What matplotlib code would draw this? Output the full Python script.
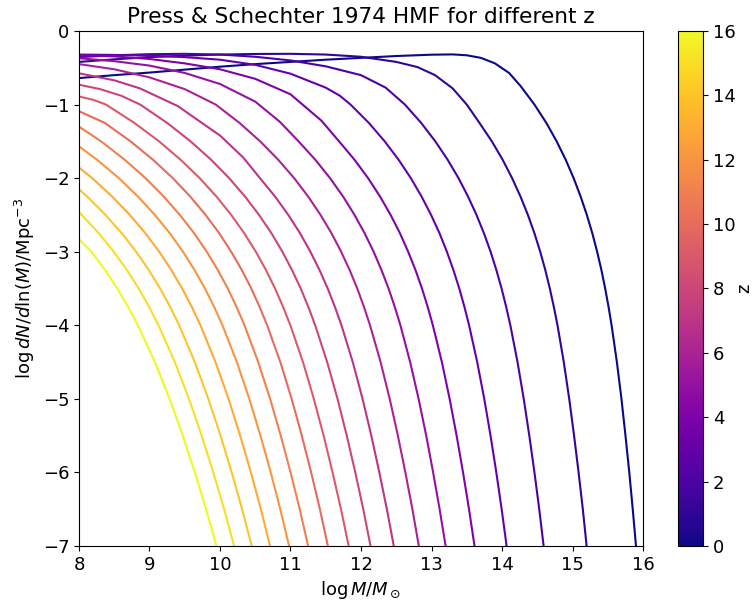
import numpy as np
import matplotlib.pyplot as plt
import matplotlib as mpl

redshifts = list(range(17))

# log M (x) and log dN/dlnM (y) for each redshift
z0_x = [8.0, 8.5, 9.0, 9.5, 10.0, 10.5, 11.0, 11.5, 12.0, 12.5, 13.0, 13.3, 13.5, 13.7, 13.9,
        14.1, 14.265, 14.46, 14.629, 14.775, 14.903, 15.016, 15.115, 15.203, 15.281, 15.349,
        15.41, 15.463, 15.511, 15.554, 15.629, 15.694, 15.751, 15.805, 15.854, 15.90]
z0_y = [-0.64, -0.60, -0.565, -0.525, -0.485, -0.45, -0.42, -0.39, -0.365, -0.34, -0.322, -0.318,
        -0.33, -0.365, -0.44, -0.57, -0.75, -1.0, -1.25, -1.5, -1.75, -2.0, -2.25, -2.5, -2.75,
        -3.0, -3.25, -3.5, -3.75, -4.0, -4.5, -5.0, -5.5, -6.0, -6.5, -7.0]
z1_x = [8.0, 8.5, 9.0, 9.5, 10.0, 10.5, 11.0, 11.5, 12.0, 12.5, 12.8, 13.05, 13.3, 13.5, 13.681,
        13.856, 14.009, 14.143, 14.262, 14.367, 14.46, 14.542, 14.614, 14.678, 14.735, 14.787,
        14.876, 14.953, 15.022, 15.086, 15.146, 15.20]
z1_y = [-0.42, -0.385, -0.355, -0.335, -0.32, -0.312, -0.31, -0.32, -0.35, -0.42, -0.49, -0.60,
        -0.78, -1.0, -1.25, -1.5, -1.75, -2.0, -2.25, -2.5, -2.75, -3.0, -3.25, -3.5, -3.75,
        -4.0, -4.5, -5.0, -5.5, -6.0, -6.5, -7.0]
z2_x = [8.0, 8.5, 9.0, 9.5, 10.0, 10.5, 11.0, 11.5, 12.0, 12.35, 12.623, 12.854, 13.054, 13.229,
        13.383, 13.518, 13.638, 13.744, 13.838, 13.92, 13.994, 14.059, 14.118, 14.22, 14.308,
        14.387, 14.46, 14.528, 14.59]
z2_y = [-0.355, -0.33, -0.315, -0.31, -0.32, -0.35, -0.40, -0.48, -0.60, -0.77, -1.0, -1.25,
        -1.5, -1.75, -2.0, -2.25, -2.5, -2.75, -3.0, -3.25, -3.5, -3.75, -4.0, -4.5, -5.0, -5.5,
        -6.0, -6.5, -7.0]
z3_x = [8.0, 8.5, 9.0, 9.5, 10.0, 10.5, 11.0, 11.5, 11.7, 11.852, 12.112, 12.336, 12.533,
        12.707, 12.859, 12.994, 13.114, 13.218, 13.311, 13.394, 13.467, 13.533, 13.648, 13.748,
        13.837, 13.919, 13.995, 14.065]
z3_y = [-0.32, -0.325, -0.335, -0.355, -0.39, -0.46, -0.58, -0.77, -0.88, -1.0, -1.25, -1.5,
        -1.75, -2.0, -2.25, -2.5, -2.75, -3.0, -3.25, -3.5, -3.75, -4.0, -4.5, -5.0, -5.5, -6.0,
        -6.5, -7.0]
z4_x = [8.0, 8.5, 9.0, 9.5, 10.0, 10.5, 11.0, 11.44, 11.689, 11.908, 12.101, 12.27, 12.42,
        12.553, 12.669, 12.773, 12.865, 12.946, 13.019, 13.147, 13.257, 13.356, 13.447, 13.532,
        13.61]
z4_y = [-0.33, -0.345, -0.38, -0.44, -0.52, -0.65, -0.86, -1.22, -1.5, -1.75, -2.0, -2.25, -2.5,
        -2.75, -3.0, -3.25, -3.5, -3.75, -4.0, -4.5, -5.0, -5.5, -6.0, -6.5, -7.0]
z5_x = [8.0, 8.5, 9.0, 9.5, 10.0, 10.5, 10.844, 11.115, 11.352, 11.561, 11.746, 11.908, 12.052,
        12.179, 12.291, 12.391, 12.479, 12.559, 12.697, 12.817, 12.925, 13.023, 13.115, 13.20]
z5_y = [-0.37, -0.41, -0.47, -0.57, -0.72, -0.96, -1.23, -1.5, -1.75, -2.0, -2.25, -2.5, -2.75,
        -3.0, -3.25, -3.5, -3.75, -4.0, -4.5, -5.0, -5.5, -6.0, -6.5, -7.0]
z6_x = [8.0, 8.5, 9.0, 9.5, 9.94, 10.278, 10.57, 10.826, 11.052, 11.251, 11.426, 11.582, 11.718,
        11.839, 11.947, 12.042, 12.128, 12.278, 12.407, 12.523, 12.629, 12.729, 12.82]
z6_y = [-0.45, -0.52, -0.63, -0.79, -1.0, -1.25, -1.5, -1.75, -2.0, -2.25, -2.5, -2.75, -3.0,
        -3.25, -3.5, -3.75, -4.0, -4.5, -5.0, -5.5, -6.0, -6.5, -7.0]
z7_x = [8.0, 8.5, 8.865, 9.4, 10.0, 10.33, 10.567, 10.781, 10.969, 11.136, 11.282, 11.412,
        11.528, 11.63, 11.723, 11.883, 12.022, 12.146, 12.26, 12.367, 12.465]
z7_y = [-0.575, -0.67, -0.78, -1.02, -1.42, -1.72, -2.0, -2.25, -2.5, -2.75, -3.0, -3.25, -3.5,
        -3.75, -4.0, -4.5, -5.0, -5.5, -6.0, -6.5, -7.0]
z8_x = [8.0, 8.3, 8.6, 8.868, 9.252, 9.583, 9.874, 10.13, 10.355, 10.554, 10.731, 10.885,
        11.022, 11.145, 11.253, 11.35, 11.52, 11.667, 11.798, 11.919, 12.032, 12.135]
z8_y = [-0.73, -0.79, -0.88, -1.0, -1.25, -1.5, -1.75, -2.0, -2.25, -2.5, -2.75, -3.0, -3.25,
        -3.5, -3.75, -4.0, -4.5, -5.0, -5.5, -6.0, -6.5, -7.0]
z9_x = [8.0, 8.2, 8.383, 8.787, 9.136, 9.442, 9.712, 9.95, 10.159, 10.345, 10.508, 10.653,
        10.781, 10.895, 10.998, 11.177, 11.331, 11.47, 11.597, 11.716, 11.825]
z9_y = [-0.89, -0.935, -1.0, -1.25, -1.5, -1.75, -2.0, -2.25, -2.5, -2.75, -3.0, -3.25, -3.5,
        -3.75, -4.0, -4.5, -5.0, -5.5, -6.0, -6.5, -7.0]
z10_x = [8.0, 8.368, 8.731, 9.05, 9.331, 9.578, 9.796, 9.99, 10.159, 10.31, 10.444, 10.562,
         10.669, 10.856, 11.016, 11.16, 11.293, 11.417, 11.53]
z10_y = [-1.09, -1.25, -1.5, -1.75, -2.0, -2.25, -2.5, -2.75, -3.0, -3.25, -3.5, -3.75, -4.0,
         -4.5, -5.0, -5.5, -6.0, -6.5, -7.0]
z11_x = [8.0, 8.314, 8.649, 8.943, 9.202, 9.431, 9.634, 9.812, 9.97, 10.11, 10.235, 10.347,
         10.542, 10.711, 10.862, 11.001, 11.131, 11.25]
z11_y = [-1.30, -1.5, -1.75, -2.0, -2.25, -2.5, -2.75, -3.0, -3.25, -3.5, -3.75, -4.0, -4.5,
         -5.0, -5.5, -6.0, -6.5, -7.0]
z12_x = [8.0, 8.257, 8.565, 8.837, 9.076, 9.289, 9.475, 9.64, 9.787, 9.917, 10.035, 10.239,
         10.416, 10.574, 10.72, 10.855, 10.98]
z12_y = [-1.567, -1.75, -2.0, -2.25, -2.5, -2.75, -3.0, -3.25, -3.5, -3.75, -4.0, -4.5, -5.0,
         -5.5, -6.0, -6.5, -7.0]
z13_x = [8.0, 8.187, 8.471, 8.721, 8.943, 9.138, 9.31, 9.464, 9.6, 9.723, 9.936, 10.121,
         10.286, 10.438, 10.58, 10.71]
z13_y = [-1.855, -2.0, -2.25, -2.5, -2.75, -3.0, -3.25, -3.5, -3.75, -4.0, -4.5, -5.0, -5.5,
         -6.0, -6.5, -7.0]
z14_x = [8.0, 8.115, 8.376, 8.608, 8.811, 8.991, 9.151, 9.293, 9.421, 9.643, 9.835, 10.008,
         10.166, 10.314, 10.45]
z14_y = [-2.15, -2.25, -2.5, -2.75, -3.0, -3.25, -3.5, -3.75, -4.0, -4.5, -5.0, -5.5, -6.0,
         -6.5, -7.0]
z15_x = [8.0, 8.282, 8.493, 8.681, 8.847, 8.995, 9.128, 9.36, 9.56, 9.74, 9.905, 10.059, 10.20]
z15_y = [-2.46, -2.75, -3.0, -3.25, -3.5, -3.75, -4.0, -4.5, -5.0, -5.5, -6.0, -6.5, -7.0]
z16_x = [8.0, 8.176, 8.371, 8.544, 8.698, 8.836, 9.077, 9.285, 9.472, 9.643, 9.803, 9.95]
z16_y = [-2.83, -3.0, -3.25, -3.5, -3.75, -4.0, -4.5, -5.0, -5.5, -6.0, -6.5, -7.0]

curves_x = [z0_x, z1_x, z2_x, z3_x, z4_x, z5_x, z6_x, z7_x, z8_x,
            z9_x, z10_x, z11_x, z12_x, z13_x, z14_x, z15_x, z16_x]
curves_y = [z0_y, z1_y, z2_y, z3_y, z4_y, z5_y, z6_y, z7_y, z8_y,
            z9_y, z10_y, z11_y, z12_y, z13_y, z14_y, z15_y, z16_y]

plt.rcParams['font.size'] = 13

fig = plt.figure(figsize=(7.55, 6.08), dpi=100)
ax = fig.add_axes([0.1046, 0.102, 0.7471, 0.847])
cax = fig.add_axes([0.898, 0.102, 0.033, 0.847])

cmap = plt.get_cmap('plasma')
norm = mpl.colors.Normalize(vmin=0, vmax=16)

for z, mx, my in zip(redshifts, curves_x, curves_y):
    ax.plot(mx, my, color=cmap(norm(z)), lw=1.5)

ax.set_xlim(8, 16)
ax.set_ylim(-7, 0)
ax.set_xlabel(r'$\log M/M_\odot$')
ax.set_ylabel(r'$\log dN/d\ln(M)/\mathrm{Mpc}^{-3}$')
ax.set_title('Press & Schechter 1974 HMF for different z')

sm = mpl.cm.ScalarMappable(norm=norm, cmap=cmap)
cb = fig.colorbar(sm, cax=cax)
cb.set_label('z', labelpad=0)
cb.set_ticks(np.arange(0, 17, 2))

fig.savefig('out.png', dpi=100)
